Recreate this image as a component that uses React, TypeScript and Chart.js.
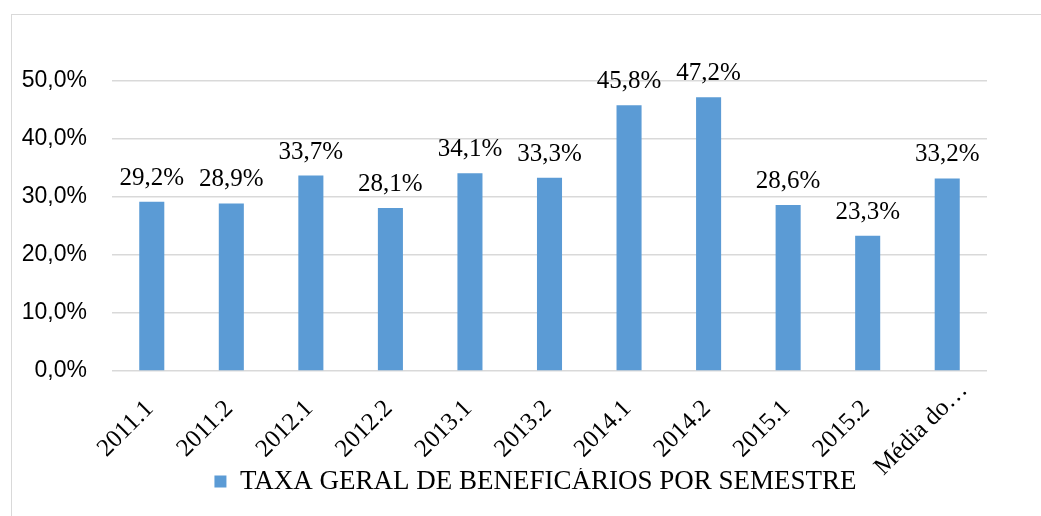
import React, { useEffect, useRef } from "react";
import { Chart, registerables } from "chart.js";

Chart.register(...registerables);

const categories: string[] = [
  "2011.1", "2011.2", "2012.1", "2012.2", "2013.1", "2013.2",
  "2014.1", "2014.2", "2015.1", "2015.2", "Média do…",
];
const values: number[] = [29.2, 28.9, 33.7, 28.1, 34.1, 33.3, 45.8, 47.2, 28.6, 23.3, 33.2];
const seriesName = "TAXA GERAL DE BENEFICÁRIOS POR SEMESTRE";
const yMax = 50;
const yStep = 10;

const fmt = (v: number) => `${v.toFixed(1).replace(".", ",")}%`;
const SERIF = '"Liberation Serif", "Times New Roman", serif';

const dataLabels = {
  id: "dataLabels",
  afterDatasetsDraw(chart: any) {
    const ctx = chart.ctx;
    const meta = chart.getDatasetMeta(0);
    ctx.save();
    ctx.font = `25px ${SERIF}`;
    ctx.fillStyle = "#000";
    ctx.textAlign = "center";
    ctx.textBaseline = "alphabetic";
    meta.data.forEach((bar: any, i: number) => {
      ctx.fillText(fmt(values[i]), bar.x, bar.y - 17);
    });
    ctx.restore();
  },
};

// category labels, rotated -45° and centred under each tick of the x scale
const xLabels = {
  id: "xLabels",
  afterDraw(chart: any) {
    const sx = chart.scales.x;
    const ctx = chart.ctx;
    ctx.save();
    ctx.font = `25px ${SERIF}`;
    ctx.fillStyle = "#000";
    ctx.textAlign = "center";
    ctx.textBaseline = "middle";
    sx.ticks.forEach((_t: any, i: number) => {
      const x = sx.getPixelForTick(i);
      ctx.save();
      ctx.translate(x - 26, sx.top + 58);
      ctx.rotate(-Math.PI / 4);
      ctx.fillText(String(sx.getLabelForValue(i)), 0, 0);
      ctx.restore();
    });
    ctx.restore();
  },
};

// shift the legend block to match the reference placement
const legendShift = {
  id: "legendShift",
  afterUpdate(chart: any) {
    const lg = chart.legend;
    if (!lg) return;
    const dx = 42;
    const dy = -11;
    lg.left += dx;
    lg.right += dx;
    lg.top += dy;
    lg.bottom += dy;
    lg.adjustHitBoxes();
  },
};

export default function App() {
  const ref = useRef<HTMLCanvasElement | null>(null);
  useEffect(() => {
    if (!ref.current) return;
    const chart = new Chart(ref.current, {
      type: "bar",
      data: {
        labels: categories,
        datasets: [
          {
            label: seriesName,
            data: values,
            backgroundColor: "#5b9bd5",
            borderWidth: 0,
            barPercentage: 0.315,
            categoryPercentage: 1,
          },
        ],
      },
      options: {
        responsive: false,
        animation: false,
        layout: { padding: { left: 0, right: 54, top: 81, bottom: 0 } },
        scales: {
          x: {
            grid: { display: false },
            border: { display: false },
            ticks: { display: false, autoSkip: false },
            afterFit(scale: any) {
              scale.height = 108;
            },
          },
          y: {
            min: 0,
            max: yMax,
            ticks: {
              stepSize: yStep,
              padding: 25,
              color: "#000",
              font: { family: '"Liberation Sans", Arial, sans-serif', size: 23 },
              callback: (v: any) => fmt(Number(v)),
            },
            grid: { color: "#d9d9d9", lineWidth: 1.5, drawTicks: false },
            border: { display: false },
            afterFit(scale: any) {
              scale.width = 112;
            },
          },
        },
        plugins: {
          tooltip: { enabled: false },
          legend: {
            position: "bottom",
            labels: {
              boxWidth: 12,
              boxHeight: 12,
              padding: 0,
              color: "#000",
              font: { family: SERIF, size: 27 },
            },
          },
        },
      },
      plugins: [dataLabels, xLabels, legendShift],
    });
    return () => chart.destroy();
  }, []);

  return (
    <div
      style={{
        position: "fixed",
        left: 0,
        top: 0,
        width: 1041,
        height: 516,
        overflow: "hidden",
        background: "#fff",
      }}
    >
      <div
        style={{
          position: "absolute",
          left: 11,
          top: 14,
          width: 1100,
          height: 600,
          border: "1px solid #d9d9d9",
        }}
      />
      <canvas
        ref={ref}
        width={1041}
        height={516}
        style={{ position: "absolute", left: 0, top: 0, width: 1041, height: 516 }}
      />
    </div>
  );
}
